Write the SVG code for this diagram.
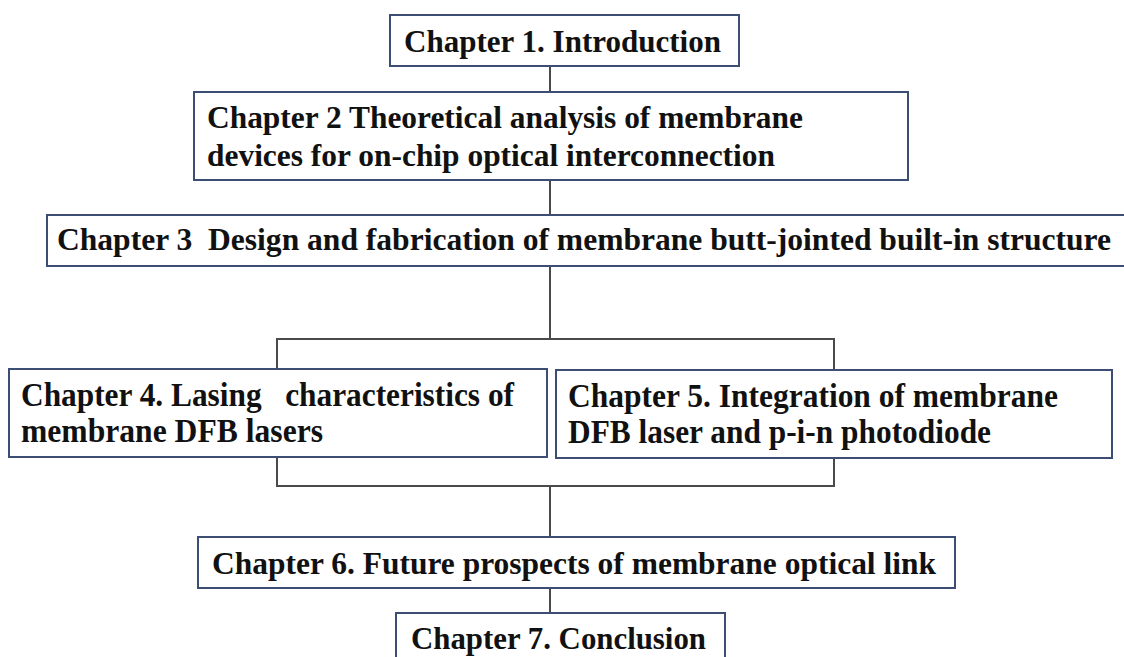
<svg xmlns="http://www.w3.org/2000/svg" width="1124" height="657" viewBox="0 0 1124 657">
<style>
.box{fill:#ffffff;stroke:#3d4e75;stroke-width:2}
.lbl{font-family:"Liberation Serif","Times New Roman",serif;font-weight:bold;fill:#111111}
.cn{stroke:#4a4a4a;stroke-width:2;fill:none}
</style>
<rect x="0" y="0" width="1124" height="657" fill="#ffffff"/>
<g id="connectors">
<line class="cn" x1="550" y1="66" x2="550" y2="92"/>
<line class="cn" x1="550" y1="180" x2="550" y2="215"/>
<line class="cn" x1="550" y1="266" x2="550" y2="339"/>
<polyline class="cn" points="277,369 277,339 834,339 834,370"/>
<polyline class="cn" points="277,457 277,486 834,486 834,458"/>
<line class="cn" x1="550" y1="486" x2="550" y2="537"/>
<line class="cn" x1="550" y1="588" x2="550" y2="613"/>
</g>
<g id="ch1">
<rect class="box" x="390" y="15" width="349" height="51"/>
<text class="lbl" x="404" y="52" font-size="31" textLength="317" lengthAdjust="spacingAndGlyphs">Chapter 1. Introduction</text>
</g>
<g id="ch2">
<rect class="box" x="194" y="92" width="714" height="88"/>
<text class="lbl" x="207" y="128" font-size="31" textLength="596" lengthAdjust="spacingAndGlyphs">Chapter 2 Theoretical analysis of membrane</text>
<text class="lbl" x="207" y="166" font-size="31" textLength="568" lengthAdjust="spacingAndGlyphs">devices for on-chip optical interconnection</text>
</g>
<g id="ch3">
<rect class="box" x="47" y="215" width="1090" height="51"/>
<text class="lbl" x="57" y="250" font-size="32" textLength="1054" lengthAdjust="spacingAndGlyphs" xml:space="preserve">Chapter 3  Design and fabrication of membrane butt-jointed built-in structure</text>
</g>
<g id="ch4">
<rect class="box" x="9" y="369" width="538" height="88"/>
<text class="lbl" x="21" y="406" font-size="33" textLength="493" lengthAdjust="spacingAndGlyphs" xml:space="preserve">Chapter 4. Lasing   characteristics of</text>
<text class="lbl" x="21" y="442" font-size="33" textLength="302" lengthAdjust="spacingAndGlyphs">membrane DFB lasers</text>
</g>
<g id="ch5">
<rect class="box" x="556" y="370" width="556" height="88"/>
<text class="lbl" x="568" y="407" font-size="33" textLength="490" lengthAdjust="spacingAndGlyphs">Chapter 5. Integration of membrane</text>
<text class="lbl" x="568" y="443" font-size="33" textLength="423" lengthAdjust="spacingAndGlyphs">DFB laser and p-i-n photodiode</text>
</g>
<g id="ch6">
<rect class="box" x="198" y="537" width="757" height="51"/>
<text class="lbl" x="212" y="574" font-size="31" textLength="724" lengthAdjust="spacingAndGlyphs">Chapter 6. Future prospects of membrane optical link</text>
</g>
<g id="ch7">
<rect class="box" x="396" y="613" width="329" height="60"/>
<text class="lbl" x="411" y="649" font-size="31" textLength="295" lengthAdjust="spacingAndGlyphs">Chapter 7. Conclusion</text>
</g>
</svg>
